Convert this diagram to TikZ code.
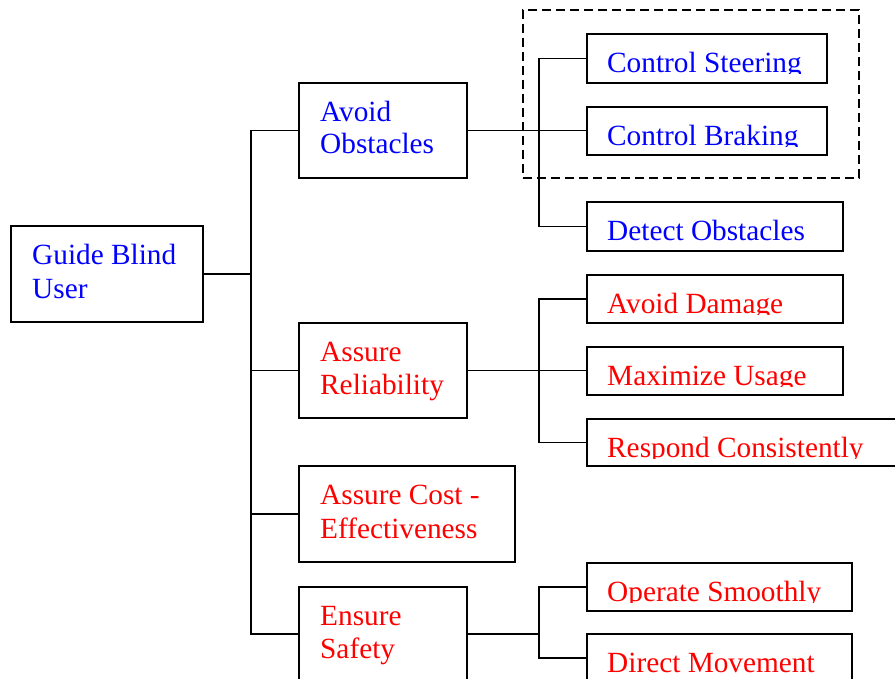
\documentclass[tikz,border=0pt]{standalone}
\usepackage{fontspec}
\setmainfont{Liberation Serif}
\definecolor{tblue}{RGB}{0,0,255}
\definecolor{tred}{RGB}{255,0,0}
\tikzset{
 box/.style={draw=black, line width=1.8pt, rectangle, inner sep=0pt},
 conn/.style={draw=black, line width=1.8pt},
 lbl/.style={anchor=base west, inner sep=0pt, font=\fontsize{29.3}{33}\selectfont},
 grp/.style={draw=black, line width=1.6pt, dash pattern=on 9pt off 5pt, rectangle, inner sep=0pt},
}
\newcommand\mybox[5]{\node[box, minimum width={#4-#2}, minimum height={#5-#3}] (#1) at ({(#2+#4)/2},{(#3+#5)/2}) {};}
\newcommand\leafnode[7]{\mybox{#1}{#2}{#3}{#4}{#5}
 \begin{scope}\clip (#2,#3) rectangle (#4,{#3+39.5}); \node[lbl,text=#6] (#1t) at (607,{#3+38.4}) {#7};\end{scope}}
\begin{document}
\begin{tikzpicture}[x=1pt,y=-1pt]
\useasboundingbox (0,0) rectangle (895,679);
\clip (0,0) rectangle (895,679);
% group
\node[grp, minimum width=336, minimum height=168] (grp) at (691,94) {};
% root
\mybox{root}{11}{226}{203}{322}
\node[lbl,text=tblue] (rootA) at (32,265) {Guide Blind};
\node[lbl,text=tblue] (rootB) at (32,298.5) {User};
% level 1
\mybox{avoid}{299}{83}{467}{178}
\node[lbl,text=tblue] (avoidA) at (320,122) {Avoid};
\node[lbl,text=tblue] (avoidB) at (320,154) {Obstacles};
\mybox{rel}{299}{323}{467}{418}
\node[lbl,text=tred] (relA) at (320,362) {Assure};
\node[lbl,text=tred] (relB) at (320,394) {Reliability};
\mybox{cost}{299}{466}{515}{562}
\node[lbl,text=tred] (costA) at (320,504.5) {Assure Cost -};
\node[lbl,text=tred] (costB) at (320,538) {Effectiveness};
\mybox{safe}{299}{587}{467}{681}
\node[lbl,text=tred] (safeA) at (320,625) {Ensure};
\node[lbl,text=tred] (safeB) at (320,658) {Safety};
% leaves
\leafnode{steer}{587}{34}{827}{83}{tblue}{Control Steering}
\leafnode{brake}{587}{107}{827}{155}{tblue}{Control Braking}
\leafnode{detect}{587}{202}{843}{251}{tblue}{Detect Obstacles}
\leafnode{dmg}{587}{275}{843}{323}{tred}{Avoid Damage}
\leafnode{maxu}{587}{347}{843}{395}{tred}{Maximize Usage}
\leafnode{resp}{587}{419}{905}{466}{tred}{Respond Consistently}
\leafnode{oper}{587}{563}{852}{611}{tred}{Operate Smoothly}
\leafnode{direct}{587}{634}{852}{682}{tred}{Direct Movement}
% trunks
\coordinate (tA) at (251,0);
\coordinate (tB) at (539,0);
% connectors
\draw[conn] (avoid.west) -| (tA |- safe.west) -- (safe.west);
\draw[conn] (root.east) -- (tA |- root.east);
\draw[conn] (rel.west) -- (tA |- rel.west);
\draw[conn] (cost.west) -- (tA |- cost.west);
\draw[conn] (avoid.east) -- (avoid.east -| brake.west);
\draw[conn] (steer.west) -| (tB |- detect.west) -- (detect.west);
\draw[conn] (rel.east) -- (rel.east -| maxu.west);
\draw[conn] (dmg.west) -| (tB |- resp.west) -- (resp.west);
\draw[conn] (safe.east) -- (tB |- safe.east);
\draw[conn] (oper.west) -| (tB |- direct.west) -- (direct.west);
\end{tikzpicture}
\end{document}
